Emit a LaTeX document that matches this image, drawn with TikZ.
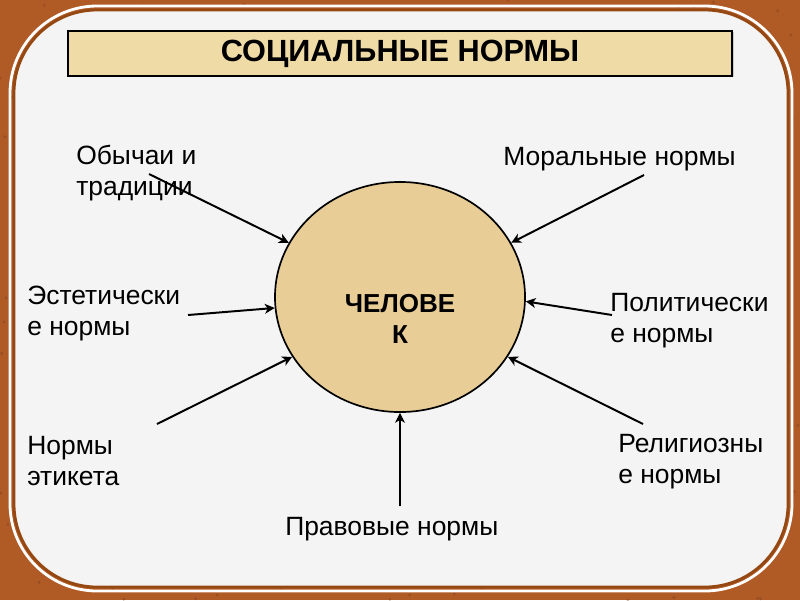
\documentclass[tikz,border=0pt]{standalone}
\usepackage{fontspec}
\setmainfont{Liberation Sans}
\usetikzlibrary{arrows.meta,shapes.geometric,shadows}
\definecolor{frame}{RGB}{176,90,38}
\definecolor{frameline}{RGB}{150,72,18}
\definecolor{paper}{RGB}{244,244,244}
\definecolor{papyrus}{RGB}{238,219,166}
\definecolor{papyrusdark}{RGB}{232,206,150}

\begin{document}
\begin{tikzpicture}[x=0.025cm,y=-0.025cm,
  lbl/.style={anchor=base west,inner sep=0pt,align=left,font=\fontsize{18.8}{21.5}\selectfont},
  normarrow/.style={-{Stealth[length=7pt,width=7pt,inset=2pt]},line width=1.4pt}]
\useasboundingbox (0,0) rectangle (800,600);
% frame
\fill[frame] (0,0) rectangle (800,600);
\pgfmathsetseed{7}
\foreach \i in {1,...,500}{
  \fill[frame!65!black,opacity=0.35] (800*rnd,600*rnd) circle (1.6);
}
\draw[white,line width=2pt,rounded corners=62pt] (10,6) rectangle (792,591);
\draw[frameline,fill=paper,line width=2pt,rounded corners=59pt] (14,10) rectangle (788,587);

% title
\node[draw,line width=1.5pt,fill=papyrus,drop shadow={shadow xshift=1pt,shadow yshift=-1pt,opacity=0.35},
  minimum width=16.6cm,minimum height=1.125cm,inner sep=0pt,
  font=\bfseries\fontsize{21.8}{24}\selectfont] (title) at (400,53.5) {СОЦИАЛЬНЫЕ НОРМЫ};

% man
\node[ellipse,draw,line width=1.2pt,fill=papyrusdark,minimum width=6.25cm,minimum height=5.75cm,inner sep=0pt] (man) at (400,297) {};
\node[align=center,inner sep=0pt,font=\bfseries\fontsize{18.5}{22}\selectfont] (mantxt) at (400,319) {ЧЕЛОВЕ\\К};

% labels (base = last line)
\node[lbl] (customs) at (76,195) {Обычаи и\\традиции};
\node[lbl] (moral) at (503,165) {Моральные нормы};
\node[lbl] (aesth) at (27,335) {Эстетически\\е нормы};
\node[lbl] (polit) at (610,342) {Политически\\е нормы};
\node[lbl] (etiq) at (27,485) {Нормы\\этикета};
\node[lbl] (relig) at (618,483) {Религиозны\\е нормы};
\node[lbl] (legal) at (285,535) {Правовые нормы};

% arrows
\coordinate (c1) at (149,174);
\coordinate (c2) at (644,175);
\coordinate (c3) at (188,315);
\coordinate (c4) at (612,315);
\coordinate (c5) at (157,424);
\coordinate (c6) at (643,424);
\coordinate (c7) at (400,506);
\draw[normarrow] (c1) -- (man.154);
\draw[normarrow] (c2) -- (man.26);
\draw[normarrow] (c3) -- (man.185);
\draw[normarrow] (c4) -- (man.358);
\draw[normarrow] (c5) -- (man.209);
\draw[normarrow] (c6) -- (man.331);
\draw[normarrow] (c7) -- (man.270);
\end{tikzpicture}
\end{document}
